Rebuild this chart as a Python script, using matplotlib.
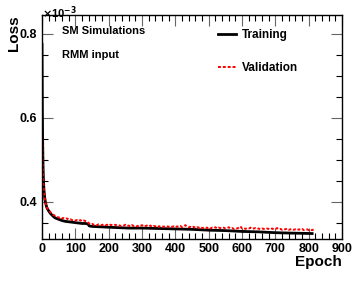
import matplotlib
matplotlib.use("Agg")
import matplotlib.pyplot as plt
from matplotlib.ticker import MultipleLocator

plt.rcParams['font.family'] = ['Liberation Sans', 'DejaVu Sans']
plt.rcParams['font.weight'] = 'bold'

# loss values in units of 1e-3
train_epoch = [0, 1, 2, 3, 4, 5, 6, 7, 8, 10, 12, 14, 17, 20, 25, 30, 35, 40,
               50, 60, 70, 80, 90, 100, 110, 120, 130, 137, 142, 150, 175, 200,
               230, 260, 300, 350, 400, 450, 500, 550, 600, 650, 700, 750, 810]
train_loss = [0.775, 0.62, 0.54, 0.49, 0.46, 0.44, 0.427, 0.418, 0.410, 0.400,
              0.393, 0.387, 0.382, 0.378, 0.372, 0.368, 0.364, 0.361, 0.358,
              0.355, 0.353, 0.352, 0.351, 0.350, 0.349, 0.348, 0.348, 0.347,
              0.342, 0.341, 0.340, 0.339, 0.338, 0.337, 0.337, 0.336, 0.335,
              0.334, 0.332, 0.331, 0.329, 0.328, 0.326, 0.325, 0.324]

val_epoch = [0, 1, 2, 3, 4, 5, 6, 7, 8, 10, 12, 14, 17, 20, 25, 30, 35, 40] + list(range(45, 816, 5))
val_loss = [0.595, 0.53, 0.49, 0.465, 0.445, 0.432, 0.423, 0.415, 0.408, 0.399,
            0.392, 0.387, 0.383, 0.380, 0.375, 0.371, 0.368, 0.366,
            0.364, 0.362, 0.363, 0.360, 0.361, 0.359, 0.360, 0.357, 0.358, 0.356,
            0.357, 0.355, 0.356, 0.354, 0.356, 0.353, 0.355, 0.354, 0.353, 0.349,
            0.346, 0.347, 0.345, 0.346, 0.344, 0.346, 0.345, 0.344, 0.346, 0.344,
            0.345, 0.343, 0.345, 0.344, 0.343, 0.345, 0.343, 0.344, 0.342, 0.344,
            0.343, 0.345, 0.342, 0.343, 0.341, 0.344, 0.342, 0.343, 0.341, 0.343,
            0.342, 0.344, 0.341, 0.342, 0.343, 0.341, 0.343, 0.340, 0.342, 0.341,
            0.343, 0.340, 0.342, 0.341, 0.340, 0.342, 0.341, 0.340, 0.342, 0.340,
            0.341, 0.339, 0.341, 0.340, 0.342, 0.339, 0.341, 0.344, 0.340, 0.339,
            0.340, 0.338, 0.340, 0.337, 0.339, 0.338, 0.340, 0.337, 0.338, 0.339,
            0.337, 0.339, 0.336, 0.338, 0.337, 0.339, 0.336, 0.338, 0.337, 0.336,
            0.338, 0.336, 0.337, 0.339, 0.336, 0.337, 0.335, 0.337, 0.336, 0.338,
            0.341, 0.336, 0.337, 0.335, 0.337, 0.336, 0.338, 0.335, 0.336, 0.337,
            0.335, 0.336, 0.334, 0.336, 0.335, 0.334, 0.336, 0.335, 0.334, 0.336,
            0.334, 0.335, 0.337, 0.334, 0.335, 0.333, 0.335, 0.334, 0.336, 0.333,
            0.334, 0.335, 0.333, 0.334, 0.332, 0.334, 0.333, 0.335, 0.332, 0.333,
            0.334, 0.332, 0.333, 0.332, 0.334]

fig = plt.figure(figsize=(3.56, 2.82), dpi=100)
ax = fig.add_axes([0.118, 0.154, 0.843, 0.793])

ax.plot(train_epoch, train_loss, color='black', linewidth=2.0, label='Training')
ax.plot(val_epoch, val_loss, color='red', linewidth=1.4, linestyle=(0, (1.5, 1)), label='Validation')

ax.set_xlim(0, 900)
ax.set_ylim(0.312, 0.845)
ax.xaxis.set_major_locator(MultipleLocator(100))
ax.xaxis.set_minor_locator(MultipleLocator(20))
ax.yaxis.set_major_locator(MultipleLocator(0.2))
ax.yaxis.set_minor_locator(MultipleLocator(0.05))
ax.tick_params(which='both', direction='in', top=True, right=True, labelsize=9, width=0.8)
ax.tick_params(which='major', length=8, color='#666666')
ax.tick_params(which='minor', length=4)
ax.tick_params(axis='x', pad=3)
for lbl in ax.get_xticklabels() + ax.get_yticklabels():
    lbl.set_fontweight('bold')
for sp in ax.spines.values():
    sp.set_linewidth(1.0)

fig.text(0.118, 0.985, r'$\times$10$^{-3}$', fontsize=8, ha='left', va='top')
ax.set_xlabel('Epoch', fontsize=11, fontweight='bold', loc='right')
ax.set_ylabel('Loss', fontsize=11, fontweight='bold', loc='top')
ax.xaxis.set_label_coords(1.0, -0.072)
ax.yaxis.set_label_coords(-0.07, 1.0)

ax.text(0.065, 0.93, 'SM Simulations', transform=ax.transAxes, fontsize=8, fontweight='bold', va='center')
ax.text(0.065, 0.82, 'RMM input', transform=ax.transAxes, fontsize=8, fontweight='bold', va='center')

ax.legend(loc='upper left', bbox_to_anchor=(0.571, 0.957), frameon=False, fontsize=8.5,
          handlelength=1.5, labelspacing=1.75, handletextpad=0.5, borderaxespad=0)

fig.savefig('out.png', dpi=100)
